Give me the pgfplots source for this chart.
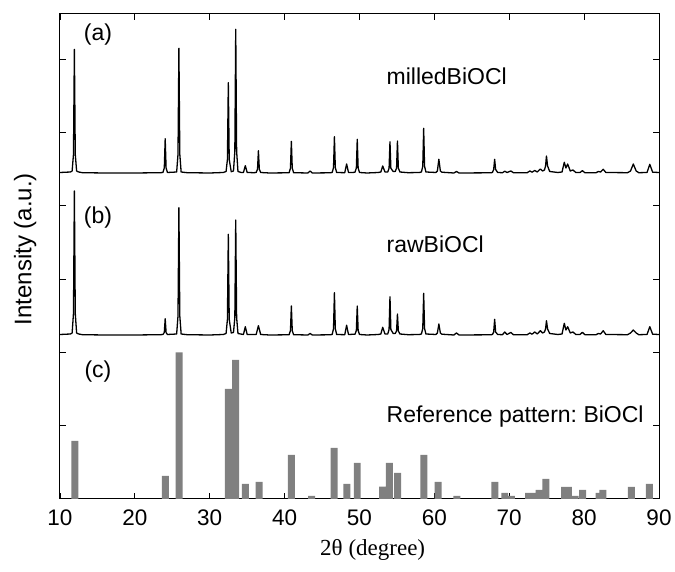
\documentclass[border=0pt]{standalone}
\usepackage{pgfplots}
\pgfplotsset{compat=1.18}
\usepackage{fontspec}
\setmainfont{Liberation Sans}
\newfontfamily\seriffont{Liberation Serif}
\frenchspacing
\begin{document}
\begin{tikzpicture}
\useasboundingbox (-60pt,-73pt) rectangle (615pt,499pt);
\begin{axis}[
  at={(0pt,0pt)}, anchor=south west,
  scale only axis, width=599pt, height=485pt,
  xmin=10, xmax=90, ymin=0, ymax=485,
  xtick={10,20,...,90},
  ytick={73.3,146.7,220,293.3,366.7,440}, yticklabels={},
  tick align=inside, major tick length=6pt,
  tick style={black, line width=0.8pt},
  axis line style={black, line width=1pt},
  ticklabel style={font=\fontsize{22.5}{22.5}\selectfont},
  xticklabel style={yshift=-7pt},
  /pgf/number format/assume math mode=true,
  xlabel={2θ (degree)},
  ylabel={Intensity (a.u.)},
  xlabel style={at={(axis description cs:0.522,-0.105)}, anchor=center, font=\seriffont\fontsize{23}{23}\selectfont},
  ylabel style={at={(axis description cs:-0.058,0.515)}, anchor=center, font=\fontsize{24}{24}\selectfont},
]
% reference pattern bars (c)
\addplot[ybar, bar width=0.93, fill=gray, draw=none] coordinates {
(11.98,58) (24.07,23) (25.9,146.7) (32.5,110) (33.45,139) (34.75,15) (36.6,17) (40.9,44) (43.6,3) (46.6,51) (48.3,15) (49.7,36) (53.1,12.3) (54.0,36) (55.1,26) (58.6,44) (60.5,17) (63.0,3) (68.07,17) (69.4,6) (70.3,3) (72.6,6) (73.3,6) (74.0,9) (74.9,20) (77.4,12) (77.9,12) (78.8,3) (79.8,9) (82.0,6) (82.5,9) (86.3,12) (88.7,15)
};
% milled BiOCl (a)
\addplot[black, line width=1.3pt, line join=round] coordinates {
(10,326.5) (11.4,327) (11.62,328) (11.8,344.6) (11.92,449.7) (12.04,344.6) (12.22,328) (12.5,327) (13,326.3) (16,326) (20,326) (23.4,326.3)
(23.75,326.5) (23.93,331.1) (24.05,360.3) (24.17,331.1) (24.35,326.5)
(25.58,327) (25.76,344.7) (25.88,450.7) (26.0,344.7) (26.18,327)
(27,326.3) (30,326) (31.8,326.5)
(32.18,327.5) (32.36,339.5) (32.48,416.3) (32.6,339.5) (32.87,327.3)
(33.17,328) (33.35,347.6) (33.47,469.7) (33.59,347.6) (33.77,327.5)
(34.2,326.5) (34.5,326.5) (34.75,333.3) (35.0,326.5)
(35.9,326.3)
(36.2,326.5) (36.38,329.8) (36.5,348.3) (36.62,329.8) (36.8,326.5)
(38,326) (40.3,326.2)
(40.6,326.3) (40.78,330.8) (40.9,357.7) (41.02,330.8) (41.2,326.3)
(43.1,326) (43.4,328) (43.7,326) (46,326.2)
(46.35,326.5) (46.53,331.4) (46.65,362.3) (46.77,331.4) (46.95,326.5)
(48.03,326.3) (48.28,335) (48.53,326.5)
(49.1,326.5)
(49.4,326.8) (49.58,331) (49.7,359.7) (49.82,331) (50.0,326.5)
(51,326) (52.5,326.5) (52.85,327) (53.1,333) (53.4,327)
(53.77,327) (53.95,330.7) (54.07,357.3) (54.19,330.7) (54.5,327.5)
(54.77,327.5) (54.95,330.8) (55.07,358) (55.19,330.8) (55.4,327)
(56.5,326.3) (58,326.5)
(58.27,327) (58.45,332.7) (58.57,370.7) (58.69,332.7) (58.87,327)
(60.2,326.5) (60.4,328) (60.6,339.7) (60.8,328) (61.0,326.8)
(62.6,326) (62.95,327.5) (63.3,326) (67.5,326.2)
(67.75,326.5) (67.92,329.5) (68.05,339.7) (68.18,329.5) (68.45,326.5)
(69.1,326.3) (69.4,327.8) (69.7,326.5) (70.22,328) (70.55,326.3) (72.4,326.3) (72.75,328) (73.05,326.8) (73.4,328.5) (73.75,327) (74.15,330) (74.45,328)
(74.7,329) (74.85,333) (74.97,343) (75.12,333) (75.4,327.5)
(76.5,326.5) (77.05,327) (77.35,336.7) (77.57,331) (77.8,335) (78.15,328) (78.5,329) (78.9,326.5) (79.45,326.5) (79.77,328.3) (80.1,326.3) (81.6,326.3) (81.9,327.5) (82.2,327) (82.55,329.7) (82.9,326.5) (85.8,326.3) (86.2,328) (86.57,335) (86.95,328) (87.3,326.3) (88.4,326.5) (88.77,334.7) (89.15,326.8) (90,326.5)
};
% raw BiOCl (b)
\addplot[black, line width=1.3pt, line join=round] coordinates {
(10,164.5) (11.4,165) (11.62,166) (11.8,185.6) (11.92,308) (12.04,185.6) (12.22,166) (12.5,165) (13,164.3) (16,164) (20,164) (23.4,164.3)
(23.75,164.5) (23.93,166.5) (24.05,180.3) (24.17,166.5) (24.35,164.5)
(25.58,165) (25.76,183.1) (25.88,291.3) (26.0,183.1) (26.18,165)
(27,164.3) (30,164) (31.8,164.5)
(32.18,165.5) (32.36,179.6) (32.48,264.7) (32.6,179.6) (32.87,166)
(33.17,166.5) (33.35,181.3) (33.47,279) (33.59,181.3) (33.77,165.5)
(34.5,164.5) (34.75,172.3) (35.0,164.5)
(36.2,164.5) (36.5,173.3) (36.8,164.5)
(38,164) (40.3,164.2)
(40.6,164.3) (40.78,168.4) (40.9,193) (41.02,168.4) (41.2,164.3)
(43.1,164) (43.4,165.5) (43.7,164) (46,164.2)
(46.35,164.5) (46.53,170.3) (46.65,206.3) (46.77,170.3) (46.95,164.5)
(48.03,164.3) (48.28,173.7) (48.53,164.5)
(49.4,164.8) (49.58,168.5) (49.7,193) (49.82,168.5) (50.0,164.5)
(51,164) (52.5,164.5) (52.85,165) (53.1,171.7) (53.4,165)
(53.77,165) (53.95,169.5) (54.07,202.3) (54.19,169.5) (54.5,165.5)
(54.77,165.5) (54.95,168) (55.07,185) (55.19,168) (55.4,165)
(56.5,164.3) (58,164.5)
(58.27,165) (58.45,170.5) (58.57,205.7) (58.69,170.5) (58.87,165)
(60.2,164.5) (60.4,166) (60.6,175) (60.8,166) (61.0,164.8)
(62.6,164) (62.95,166) (63.3,164) (67.5,164.2)
(67.75,164.5) (67.92,167) (68.05,179.7) (68.18,167) (68.45,164.5)
(69.1,164.3) (69.4,167) (69.7,164.5) (70.22,166.5) (70.55,164.3) (72.4,164.3) (72.75,166) (73.05,164.8) (73.4,167) (73.75,165) (74.15,168.3) (74.45,166)
(74.7,167) (74.85,170) (74.97,178.3) (75.12,170) (75.4,165.5)
(76.5,164.5) (77.05,165) (77.35,175.7) (77.57,169) (77.8,172.3) (78.15,166) (78.5,167) (78.9,164.5) (79.45,164.5) (79.77,166.7) (80.1,164.3) (81.6,164.3) (81.9,165.5) (82.2,165) (82.55,168.3) (82.9,164.5) (85.8,164.3) (86.2,166) (86.57,169) (86.95,166) (87.3,164.3) (88.4,164.5) (88.77,172.3) (89.15,164.8) (90,164.5)
};
\node[anchor=center, inner sep=0pt, font=\fontsize{23}{23}\selectfont] at (axis cs:15.07,464) {(a)};
\node[anchor=center, inner sep=0pt, font=\fontsize{23}{23}\selectfont] at (axis cs:15.07,281) {(b)};
\node[anchor=center, inner sep=0pt, font=\fontsize{23}{23}\selectfont] at (axis cs:15.07,127) {(c)};
\node[anchor=west, inner sep=0pt, font=\fontsize{23}{23}\selectfont] at (axis cs:53.6,423) {milledBiOCl};
\node[anchor=west, inner sep=0pt, font=\fontsize{23}{23}\selectfont] at (axis cs:53.6,255) {rawBiOCl};
\node[anchor=west, inner sep=0pt, font=\fontsize{23}{23}\selectfont] at (axis cs:53.6,82) {Reference pattern: BiOCl};
\end{axis}
\end{tikzpicture}
\end{document}
